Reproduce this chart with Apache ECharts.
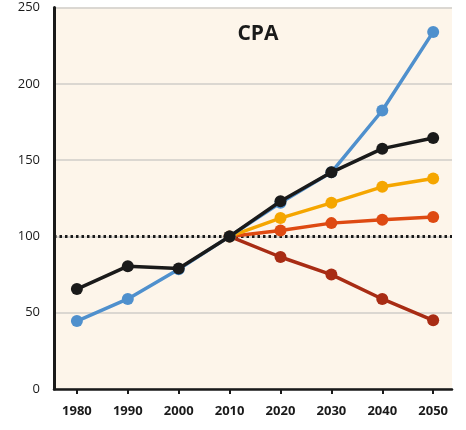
<!DOCTYPE html>
<html>
<head>
<meta charset="utf-8">
<script src="https://cdn.jsdelivr.net/npm/echarts@6/dist/echarts.min.js"></script>
<style>
  html, body { margin: 0; padding: 0; background: #fff; }
  #chart { width: 466px; height: 430px; }
</style>
</head>
<body>
<div id="chart"></div>
<script>
const years = [1980, 1990, 2000, 2010, 2020, 2030, 2040, 2050];
const yTicks = [0, 50, 100, 150, 200, 250];

const blueVals = [44.5, 59, 78.5, 100, 122, 142, 182.5, 234];
const blackVals = [65.5, 80.5, 79, 100, 123, 142, 157.5, 164.5];
const yellowVals = [null, null, null, 100, 112, 122, 132.5, 138];
const orangeVals = [null, null, null, 100, 103.8, 108.7, 110.9, 112.7];
const darkRedVals = [null, null, null, 100, 86.5, 75, 59, 45];
const baseline = 100;

const toPairs = vals => years.map((y, i) => [y, vals[i]]).filter(p => p[1] !== null);

const chart = echarts.init(document.getElementById('chart'));

const lineSeries = (vals, color, z) => ({
    type: 'line',
    data: toPairs(vals),
    symbol: 'circle',
    symbolSize: 12,
    z: z,
    lineStyle: { color: color, width: 3.5 },
    itemStyle: { color: color },
    emphasis: { disabled: true }
});

chart.setOption({
    animation: false,
    title: {
        text: 'CPA',
        left: 253,
        top: 19,
        textAlign: 'center',
        textStyle: { fontFamily: 'Open Sans', fontWeight: 'bold', fontSize: 21, color: '#1a1a1a' }
    },
    grid: {
        left: 54, right: 14, top: 7.5, bottom: 41,
        show: true,
        backgroundColor: '#fdf5ea',
        borderWidth: 0
    },
    xAxis: {
        type: 'value',
        min: 1975.5,
        max: 2053.7,
        splitLine: { show: false },
        axisLine: { show: true, lineStyle: { color: '#1a1a1a', width: 2.5 } },
        axisTick: { show: true, customValues: years, length: 5, lineStyle: { color: '#1a1a1a', width: 2 } },
        axisLabel: {
            customValues: years,
            formatter: v => String(v),
            color: '#1a1a1a',
            fontFamily: 'Open Sans',
            fontWeight: 'bold',
            fontSize: 13,
            margin: 16
        }
    },
    yAxis: {
        type: 'value',
        min: 0,
        max: 250,
        interval: 50,
        axisLine: { show: true, lineStyle: { color: '#1a1a1a', width: 3 } },
        axisTick: { show: false },
        axisLabel: {
            customValues: yTicks,
            color: '#1a1a1a',
            fontFamily: 'Open Sans',
            fontSize: 13,
            margin: 14
        },
        splitLine: { show: true, lineStyle: { color: '#cfccc8', width: 1.5 } }
    },
    series: [
        lineSeries(darkRedVals, '#a82c14', 2),
        lineSeries(orangeVals, '#de4a12', 3),
        lineSeries(yellowVals, '#f5a600', 4),
        lineSeries(blueVals, '#4f90cd', 5),
        lineSeries(blackVals, '#1a1a1a', 6),
        {
            type: 'line',
            data: [[1975.5, baseline], [2053.7, baseline]],
            symbol: 'none',
            z: 1,
            lineStyle: { color: '#1a1a1a', width: 3, type: [2.5, 3] },
            emphasis: { disabled: true }
        }
    ]
});
</script>
</body>
</html>
